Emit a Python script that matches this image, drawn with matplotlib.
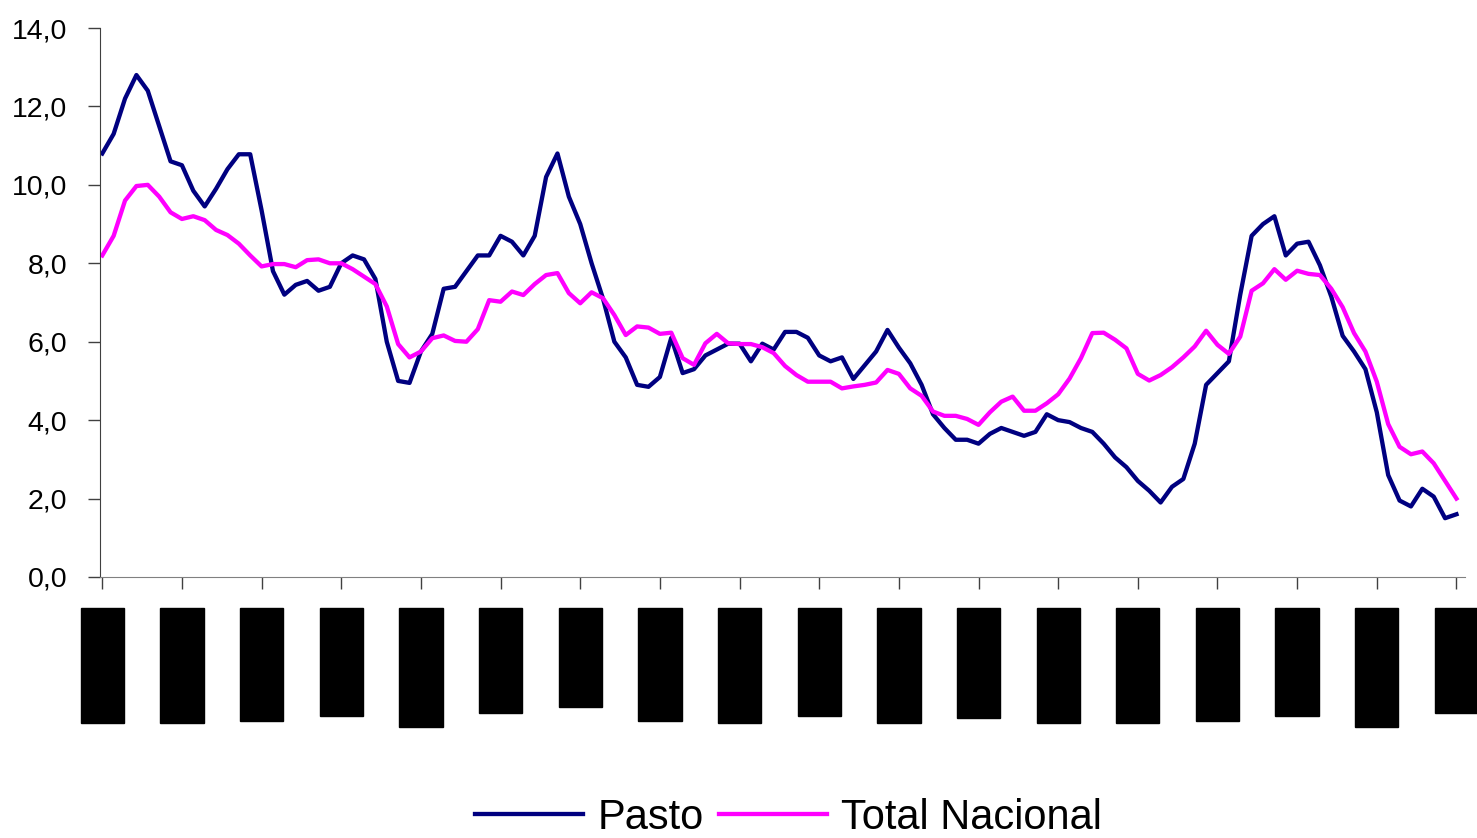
import matplotlib.pyplot as plt
from matplotlib.ticker import FuncFormatter

plt.rcParams["font.family"] = ["Liberation Sans", "DejaVu Sans"]

# 12-month inflation, monthly Jan 2000 - Dec 2009
pasto = [
    10.8, 11.3, 12.2, 12.8, 12.4, 11.5, 10.6, 10.5, 9.85, 9.45,
    9.9, 10.4, 10.78, 10.78, 9.35, 7.8, 7.2, 7.45, 7.55, 7.3,
    7.4, 8.0, 8.2, 8.1, 7.6, 6.0, 5.0, 4.95, 5.75, 6.2,
    7.35, 7.4, 7.8, 8.2, 8.2, 8.7, 8.55, 8.2, 8.7, 10.2,
    10.8, 9.7, 9.0, 8.0, 7.1, 6.0, 5.6, 4.9, 4.85, 5.1,
    6.1, 5.2, 5.3, 5.65, 5.8, 5.95, 5.95, 5.5, 5.95, 5.8,
    6.25, 6.25, 6.1, 5.65, 5.5, 5.6, 5.05, 5.4, 5.75, 6.3,
    5.85, 5.45, 4.9, 4.15, 3.8, 3.5, 3.5, 3.4, 3.65, 3.8,
    3.7, 3.6, 3.7, 4.15, 4.0, 3.95, 3.8, 3.7, 3.4, 3.05,
    2.8, 2.45, 2.2, 1.9, 2.3, 2.5, 3.4, 4.9, 5.2, 5.5,
    7.2, 8.7, 9.0, 9.2, 8.2, 8.5, 8.55, 7.95, 7.15, 6.15,
    5.75, 5.3, 4.2, 2.6, 1.95, 1.8, 2.25, 2.05, 1.5, 1.6,
]
total_nacional = [
    8.2, 8.7, 9.6, 9.97, 10.0, 9.7, 9.3, 9.13, 9.2, 9.1,
    8.85, 8.72, 8.5, 8.2, 7.92, 7.98, 7.98, 7.9, 8.08, 8.1,
    8.0, 8.0, 7.85, 7.66, 7.47, 6.9, 5.94, 5.6, 5.75, 6.09,
    6.16, 6.02, 6.0, 6.32, 7.06, 7.02, 7.28, 7.19, 7.47, 7.7,
    7.75, 7.24, 6.98, 7.26, 7.11, 6.68, 6.17, 6.39, 6.36, 6.2,
    6.23, 5.58, 5.41, 5.96, 6.2, 5.96, 5.94, 5.94, 5.86, 5.71,
    5.38, 5.15, 4.98, 4.98, 4.98, 4.81, 4.86, 4.9, 4.96, 5.28,
    5.18, 4.81, 4.62, 4.22, 4.11, 4.11, 4.03, 3.88, 4.2, 4.47,
    4.6, 4.24, 4.24, 4.43, 4.66, 5.06, 5.58, 6.22, 6.23, 6.05,
    5.83, 5.18, 5.01, 5.15, 5.35, 5.6, 5.88, 6.28, 5.92, 5.69,
    6.13, 7.3, 7.49, 7.85, 7.58, 7.81, 7.73, 7.7, 7.35, 6.88,
    6.22, 5.75, 4.98, 3.9, 3.32, 3.13, 3.2, 2.9, 2.45, 2.0,
]
tick_labels = [
    "Ene-00", "Ago-00", "Mar-01", "Oct-01", "May-02", "Dic-02",
    "Jul-03", "Feb-04", "Sep-04", "Abr-05", "Nov-05", "Jun-06",
    "Ene-07", "Ago-07", "Mar-08", "Oct-08", "May-09", "Dic-09",
]
tick_step = 7

fig = plt.figure(figsize=(14.77, 8.38), dpi=100)
ax = fig.add_axes([100 / 1477, 261 / 838, 1365 / 1477, 549 / 838])

x = range(len(pasto))
ax.plot(x, pasto, color="#000080", lw=3.1, label="Pasto")
ax.plot(x, total_nacional, color="#FF00FF", lw=3.1, label="Total Nacional")

ax.set_xlim(-0.2, 119.75)
ax.set_ylim(0, 14)
ax.set_yticks(range(0, 15, 2))
ax.yaxis.set_major_formatter(FuncFormatter(lambda v, p: f"{v:.1f}".replace(".", ",")))

# the date labels show up as solid black blocks in the original
ax.set_xticks(range(0, len(pasto), tick_step))
ax.set_xticklabels(tick_labels, rotation=90, fontsize=22.8)
for lbl in ax.get_xticklabels():
    lbl.set_bbox(dict(facecolor="black", edgecolor="black", pad=4.7))

ax.spines["top"].set_visible(False)
ax.spines["right"].set_visible(False)
ax.spines["left"].set_color("#404040")
ax.spines["bottom"].set_color("#808080")
ax.tick_params(axis="y", length=8.6, width=1, pad=15, labelsize=20.5,
               color="#404040", labelcolor="black")
ax.tick_params(axis="x", length=8.6, width=1, pad=18.4,
               color="#404040", labelcolor="black")

fig.legend(loc="center", bbox_to_anchor=(0.534, 0.024), ncol=2, frameon=False,
           fontsize=30, handlelength=2.6, handletextpad=0.34, columnspacing=0.36,
           borderaxespad=0, borderpad=0)

fig.savefig("out.png", dpi=100)
